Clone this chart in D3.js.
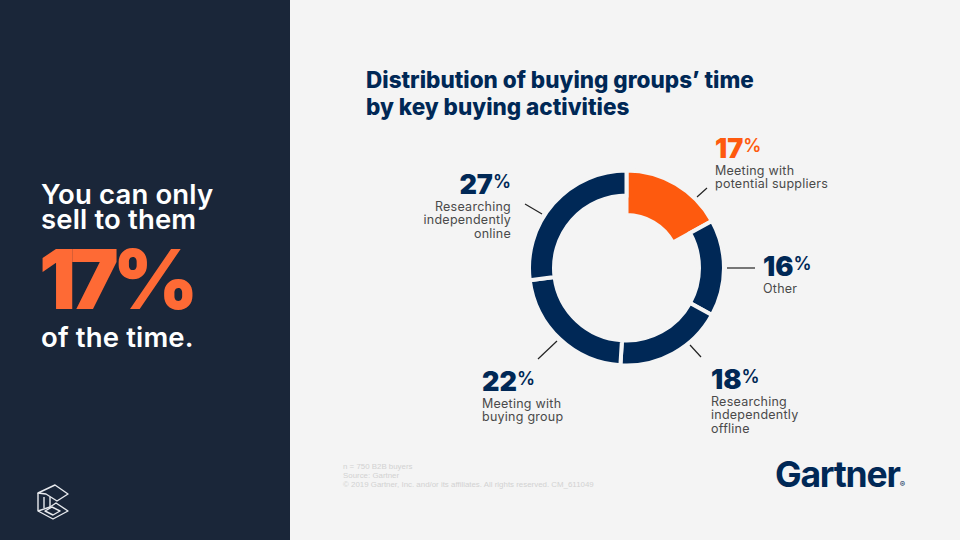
<!DOCTYPE html>
<html>
<head>
<meta charset="utf-8">
<script src="https://cdn.jsdelivr.net/npm/d3@7"></script>
<style>
  html, body { margin: 0; padding: 0; background: #f4f4f4; }
  svg { display: block; }
  text { font-family: "Inter", "Open Sans", sans-serif; }
</style>
</head>
<body>
<script>
var categories = ["Meeting with potential suppliers", "Other", "Researching independently offline", "Meeting with buying group", "Researching independently online"];
var shares = [17, 16, 18, 22, 27];
var highlighted = "Meeting with potential suppliers";

var width = 960;
var height = 540;
var navy = "#002856";
var orange = "#fe5a0e";
var paper = "#f4f4f4";

// where each label sits, in the order of categories
var labelLines = [
  ["Meeting with", "potential suppliers"],
  ["Other"],
  ["Researching", "independently", "offline"],
  ["Meeting with", "buying group"],
  ["Researching", "independently", "online"]
];
var labelX = [715, 763, 711, 482, 511];
var labelY = [158, 276, 389, 391, 194];
var labelAnchor = ["start", "start", "start", "start", "end"];
var leaders = [
  [697, 197, 707, 188],
  [727, 268, 755, 268],
  [690, 345, 701, 357],
  [557, 341, 538, 359],
  [542, 214, 525, 204]
];

var svg = d3.select("body").append("svg").attr("width", width).attr("height", height);

svg.append("rect").attr("width", width).attr("height", height).attr("fill", paper);
svg.append("rect").attr("width", 290).attr("height", height).attr("fill", "#1a2639");

// left panel
var side = svg.append("g").attr("fill", "#fff").attr("font-weight", 600).attr("font-size", 27.5).attr("letter-spacing", 0.15);
side.append("text").attr("x", 41).attr("y", 203.5).text("You can only");
side.append("text").attr("x", 41).attr("y", 229).text("sell to them");
side.append("text").attr("x", 41).attr("y", 347).text("of the time.");
svg.append("text").attr("x", 39).attr("y", 309).attr("fill", "#fe6a35")
  .attr("font-weight", 900).attr("font-size", 82).attr("letter-spacing", -6).text("17%");

// small logo, bottom left
var logoPaths = [
  "M38,493 L55,485 L68,494 L57,501 L46,494 Z",
  "M38,493 L38,511 L53,519 L68,511 L56,503 L50,507",
  "M44,497 L44,508",
  "M50,497 L50,507 L38,511",
  "M45,511 L52,507 L60,511 L53,515 Z"
];
svg.append("g").attr("fill", "none").attr("stroke", "#e8eaee").attr("stroke-width", 1.4).attr("stroke-linejoin", "round")
  .selectAll("path").data(logoPaths).join("path").attr("d", d => d);

// title
var title = svg.append("g").attr("fill", navy).attr("font-weight", 800).attr("font-size", 22.5);
title.append("text").attr("x", 366).attr("y", 88).text("Distribution of buying groups\u2019 time");
title.append("text").attr("x", 366).attr("y", 114.5).text("by key buying activities");

// donut
var cx = 626.5;
var cy = 268;
var pie = d3.pie().sort(null).value((d, i) => shares[i]);
var arc = d3.arc()
  .outerRadius(97.5)
  .innerRadius(d => categories[d.index] === highlighted ? 53 : 72.5);

svg.append("g").attr("transform", "translate(" + cx + "," + cy + ")")
  .selectAll("path").data(pie(categories)).join("path")
  .attr("d", arc)
  .attr("fill", (d, i) => categories[i] === highlighted ? orange : navy)
  .attr("stroke", paper)
  .attr("stroke-width", 4);

// leader lines
svg.append("g").attr("stroke", "#222").attr("stroke-width", 1.2)
  .selectAll("line").data(leaders).join("line")
  .attr("x1", d => d[0]).attr("y1", d => d[1]).attr("x2", d => d[2]).attr("y2", d => d[3]);

// labels
categories.forEach(function (c, i) {
  var g = svg.append("g").attr("text-anchor", labelAnchor[i]);
  var big = g.append("text").attr("x", labelX[i]).attr("y", labelY[i])
    .attr("fill", c === highlighted ? orange : navy);
  big.append("tspan").attr("font-size", 27).attr("font-weight", 900).text(shares[i]);
  big.append("tspan").attr("font-size", 18).attr("font-weight", 600).attr("dy", -6).text("%");
  labelLines[i].forEach(function (line, j) {
    g.append("text").attr("x", labelX[i]).attr("y", labelY[i] + 16.5 + j * 13.5)
      .attr("fill", "#4a4a4a").attr("font-size", 12.5).attr("letter-spacing", 0.25).text(line);
  });
});

// footnote
var notes = ["n = 750 B2B buyers", "Source: Gartner", "\u00a9 2019 Gartner, Inc. and/or its affiliates. All rights reserved. CM_611049"];
svg.append("g").selectAll("text").data(notes).join("text")
  .attr("x", 343).attr("y", (d, i) => 469 + i * 9)
  .attr("fill", "#d2d2d2").attr("font-size", 7.9)
  .style("font-family", "'Liberation Sans', sans-serif")
  .text(d => d);

// wordmark
var mark = svg.append("text").attr("x", 775).attr("y", 487).attr("fill", navy);
mark.append("tspan").attr("font-weight", 700).attr("font-size", 35.5).attr("letter-spacing", -1.2).text("Gartner");
mark.append("tspan").attr("font-size", 8).text("\u00ae");
</script>
</body>
</html>
